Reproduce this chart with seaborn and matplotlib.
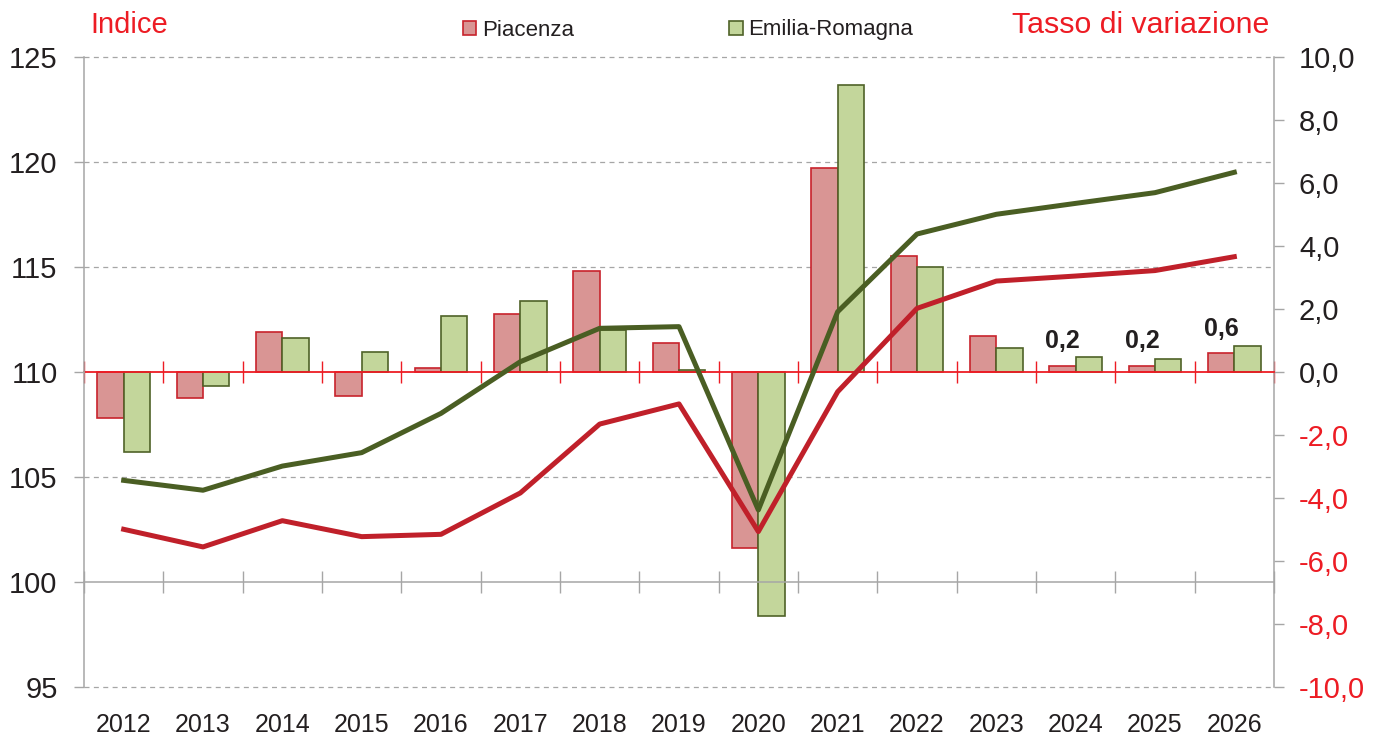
import numpy as np
import pandas as pd
import seaborn as sns
import matplotlib.pyplot as plt
import matplotlib.transforms as mtransforms
from matplotlib.lines import Line2D

plt.rcParams['font.family'] = ['Liberation Sans', 'DejaVu Sans']

years = [str(y) for y in range(2012, 2027)]
areas = ['Piacenza', 'Emilia-Romagna']

# tassi di variazione (asse destro)
rate_piacenza = [-1.47, -0.84, 1.26, -0.75, 0.14, 1.85, 3.22, 0.91, -5.60, 6.47, 3.67, 1.13, 0.2, 0.2, 0.6]
rate_emilia = [-2.55, -0.46, 1.07, 0.63, 1.77, 2.26, 1.32, 0.05, -7.74, 9.10, 3.32, 0.77, 0.47, 0.41, 0.82]

# indici (asse sinistro)
index_piacenza = [102.51, 101.67, 102.92, 102.16, 102.27, 104.24, 107.52, 108.48, 102.40,
                  109.06, 113.03, 114.33, 114.57, 114.83, 115.49]
index_emilia = [104.84, 104.37, 105.52, 106.16, 108.03, 110.49, 112.08, 112.16, 103.43,
                112.87, 116.57, 117.51, 118.03, 118.54, 119.51]

labelled_years = ['2024', '2025', '2026']
grid_levels = [95, 105, 115, 120, 125]

fill_red, edge_red, line_red = '#D99594', '#C8232C', '#C0202A'
fill_green, edge_green, line_green = '#C3D69B', '#4F6228', '#4A5E23'
title_red = '#ED1C24'
gray = '#A6A6A6'
txt = '#231F20'

rates = pd.DataFrame({
    'anno': years * 2,
    'area': [areas[0]] * len(years) + [areas[1]] * len(years),
    'tasso': rate_piacenza + rate_emilia,
})
indices = pd.DataFrame({
    'anno': years * 2,
    'area': [areas[0]] * len(years) + [areas[1]] * len(years),
    'indice': index_piacenza + index_emilia,
})

fig = plt.figure(figsize=(13.85, 7.4), dpi=100)
ax = fig.add_axes([84 / 1385, 53 / 740, 1190 / 1385, 630 / 740])

# barre sul tasso di variazione
sns.barplot(data=rates, x='anno', y='tasso', hue='area', palette=[fill_red, fill_green],
            saturation=1, width=0.66, ax=ax, legend=False, zorder=2)
for cont, ec in zip(ax.containers, [edge_red, edge_green]):
    for p in cont:
        p.set_edgecolor(ec)
        p.set_linewidth(1.2)
ax.set_ylim(-10, 10)
ax.set_xlim(-0.5, len(years) - 0.5)
ax.set_xlabel('')
ax.set_ylabel('')

# linee sull'indice
ax2 = ax.twinx()
sns.lineplot(data=indices, x='anno', y='indice', hue='area', palette=[line_red, line_green],
             linewidth=3.6, ax=ax2, legend=False, sort=False)
ax2.set_ylim(95, 125)
ax2.set_xlim(-0.5, len(years) - 0.5)
ax2.set_xlabel('')
ax2.set_ylabel('')

# griglia tratteggiata sotto le barre
blend = mtransforms.blended_transform_factory(ax.transAxes, ax2.transData)
for v in grid_levels:
    ax.add_artist(Line2D([0, 1], [v, v], transform=blend, color=gray, lw=0.9,
                         ls=(0, (4, 3.5)), zorder=0.5, clip_on=False))

# asse y destro (tasso)
ax.yaxis.tick_right()
ticks_r = np.arange(-10, 10.1, 2)
ax.set_yticks(ticks_r, labels=[f'{t:.1f}'.replace('.', ',') for t in ticks_r])
for t, lab in zip(ticks_r, ax.get_yticklabels()):
    lab.set_color(title_red if t < 0 else txt)
ax.tick_params(axis='y', direction='out', length=7, width=1, color=gray, labelsize=21, pad=11)

# asse y sinistro (indice)
ax2.yaxis.tick_left()
ax2.set_yticks(range(95, 126, 5))
ax2.tick_params(axis='y', direction='out', length=7, width=1, color=gray, labelsize=21,
                labelcolor=txt, pad=12)

# linea dello zero rossa con tacche
bounds = np.arange(-0.5, len(years), 1)
ax.spines['bottom'].set_position(('data', 0))
ax.spines['bottom'].set_color(title_red)
ax.spines['bottom'].set_linewidth(1.3)
ax.set_xticks(bounds, minor=True)
ax.tick_params(axis='x', which='major', length=0, labelbottom=False)
ax.tick_params(axis='x', which='minor', direction='inout', length=16, width=1, color=title_red)

# linea 100 grigia con tacche
ax2.xaxis.set_visible(True)
ax2.spines['bottom'].set_position(('data', 100))
ax2.spines['bottom'].set_color(gray)
ax2.spines['bottom'].set_linewidth(1.1)
ax2.tick_params(axis='x', which='major', length=0, labelbottom=False, labeltop=False)
ax2.tick_params(axis='x', which='minor', direction='inout', length=16, width=1, color=gray)

for s in ['top', 'left']:
    ax.spines[s].set_visible(False)
ax.spines['right'].set_color(gray)
ax.spines['right'].set_linewidth(1.1)
for s in ['top', 'right']:
    ax2.spines[s].set_visible(False)
ax2.spines['left'].set_color(gray)
ax2.spines['left'].set_linewidth(1.1)

# etichette anni in basso
sec = ax.secondary_xaxis('bottom')
sec.set_xticks(np.arange(len(years)), labels=years)
sec.tick_params(axis='x', length=0, labelsize=18, labelcolor=txt, pad=19)
sec.spines['bottom'].set_visible(False)

# valori sopra le barre di Piacenza
for i, y in enumerate(years):
    if y in labelled_years:
        p = ax.containers[0][i]
        v = rate_piacenza[i]
        ax.annotate(f'{v:.1f}'.replace('.', ','), xy=(p.get_x() + p.get_width() / 2, p.get_height()),
                    xytext=(0, 9), textcoords='offset points', ha='center', va='bottom',
                    fontsize=18, fontweight='bold', color=txt)

fig.text(90 / 1385, 1 - 25 / 740, 'Indice', color=title_red, fontsize=21, ha='left', va='center')
fig.text(1269 / 1385, 1 - 25 / 740, 'Tasso di variazione', color=title_red, fontsize=21.8,
         ha='right', va='center')

fig.legend(handles=list(ax.containers), labels=areas, loc='center',
           bbox_to_anchor=(688 / 1385, 1 - 30 / 740), ncol=2, frameon=False, fontsize=16,
           handlelength=0.6, handleheight=0.6, handletextpad=0.25, columnspacing=7,
           labelcolor=txt)

fig.savefig('out.png', dpi=100)
